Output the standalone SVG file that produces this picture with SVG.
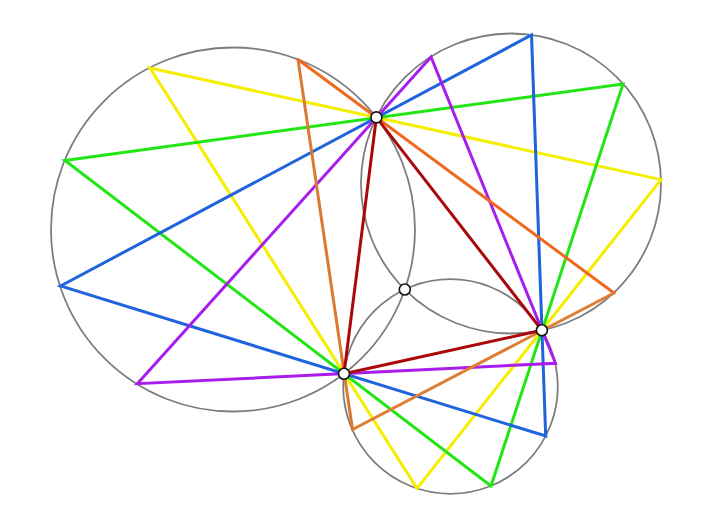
<svg xmlns="http://www.w3.org/2000/svg" width="720" height="523" viewBox="0 0 720 523">
<style>
.circ{fill:none;stroke:#7d7d7d;stroke-width:1.8}
.seg{fill:none;stroke-width:3;stroke-linejoin:miter;stroke-linecap:round}
.pt{fill:#ffffff;stroke:#111111;stroke-width:1.6}
</style>
<rect width="720" height="523" fill="#ffffff"/>
<g id="circles">
<circle class="circ" cx="233" cy="229.5" r="182"/>
<circle class="circ" cx="511" cy="183.5" r="150"/>
<circle class="circ" cx="450.5" cy="386.5" r="107.3"/>
</g>
<g id="connectors">
<polygon class="seg" stroke="#f5ee00" points="150,68 661,179.6 417,488.4"/>
<polygon class="seg" stroke="#22e614" points="65,160.5 623,84 491,486"/>
<polygon class="seg" stroke="#1f63dd" points="60.5,286 531.5,35 545.7,436"/>
<polygon class="seg" stroke="#a81cec" points="137.3,383.7 431,57 555.5,363.3"/>
<line class="seg" stroke="#f0691c" x1="298" y1="59.5" x2="614" y2="293"/>
<line class="seg" stroke="#e07d33" x1="614" y1="293" x2="352.5" y2="429.5"/>
<line class="seg" stroke="#d97a30" x1="352.5" y1="429.5" x2="298" y2="59.5"/>
<polygon class="seg" stroke="#aa0808" points="376.4,117.4 541.9,330.3 344,373.75"/>
</g>
<g id="A"><circle class="pt" cx="376.4" cy="117.4" r="5.5"/></g>
<g id="B"><circle class="pt" cx="541.9" cy="330.3" r="5.5"/></g>
<g id="C"><circle class="pt" cx="344" cy="373.75" r="5.5"/></g>
<g id="D"><circle class="pt" cx="404.8" cy="289.5" r="5.5"/></g>
</svg>
